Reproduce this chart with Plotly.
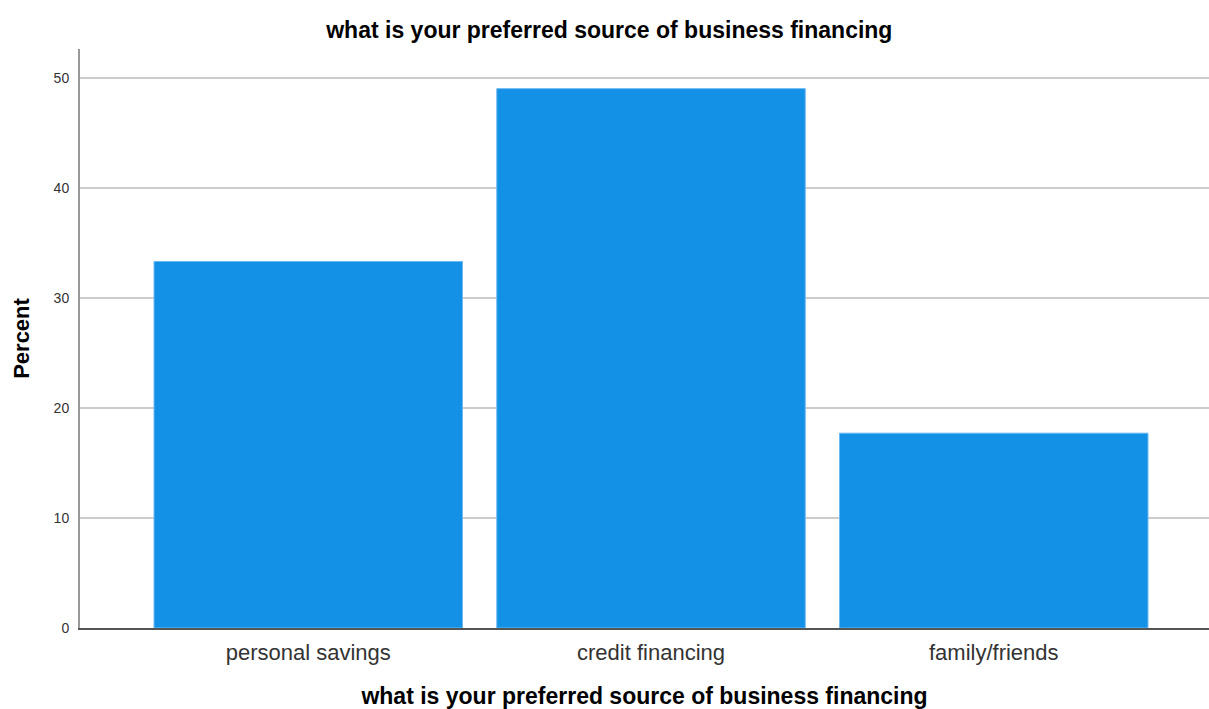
import plotly.graph_objects as go

# Survey responses: preferred source of business financing (percent of respondents)
categories = ["personal savings", "credit financing", "family/friends"]
percent = [33.3, 49.0, 17.7]
y_ticks = [0, 10, 20, 30, 40, 50]

title_text = "what is your preferred source of business financing"

fig = go.Figure(
    go.Bar(
        x=list(range(len(categories))),
        y=percent,
        width=0.9,
        marker=dict(color="#1391E6", line=dict(color="#6BB8F2", width=1)),
        hovertemplate="%{customdata}: %{y:.1f}%<extra></extra>",
        customdata=categories,
    )
)

fig.update_layout(
    width=1209,
    height=709,
    margin=dict(l=80, r=0, t=49, b=81),
    plot_bgcolor="white",
    paper_bgcolor="white",
    showlegend=False,
    title=dict(
        text=title_text,
        x=0.504,
        xanchor="center",
        y=0.958,
        yanchor="middle",
        font=dict(family="Liberation Sans, Arial, sans-serif", size=23, color="#000000", weight="bold"),
    ),
    font=dict(family="Liberation Sans, Arial, sans-serif", color="#222222"),
)

fig.update_xaxes(
    range=[-0.666, 2.628],
    tickmode="array",
    tickvals=list(range(len(categories))),
    ticktext=categories,
    tickfont=dict(size=22, color="#333333"),
    ticks="",
    ticklabelstandoff=4,
    showgrid=False,
    zeroline=False,
    showline=True,
    linecolor="#555555",
    linewidth=2,
    title=dict(
        text=title_text,
        font=dict(size=23, color="#000000", weight="bold"),
        standoff=28,
    ),
)

fig.update_yaxes(
    range=[0, 52.6],
    tickmode="array",
    tickvals=y_ticks,
    tickfont=dict(size=14, color="#333333"),
    ticks="outside",
    ticklen=6,
    tickcolor="white",
    showgrid=True,
    gridcolor="#CCCCCC",
    gridwidth=2,
    zeroline=False,
    showline=True,
    linecolor="#999999",
    linewidth=2,
    title=dict(
        text="Percent",
        font=dict(size=22, color="#000000", weight="bold"),
        standoff=18,
    ),
)

fig.write_html("out.html")
